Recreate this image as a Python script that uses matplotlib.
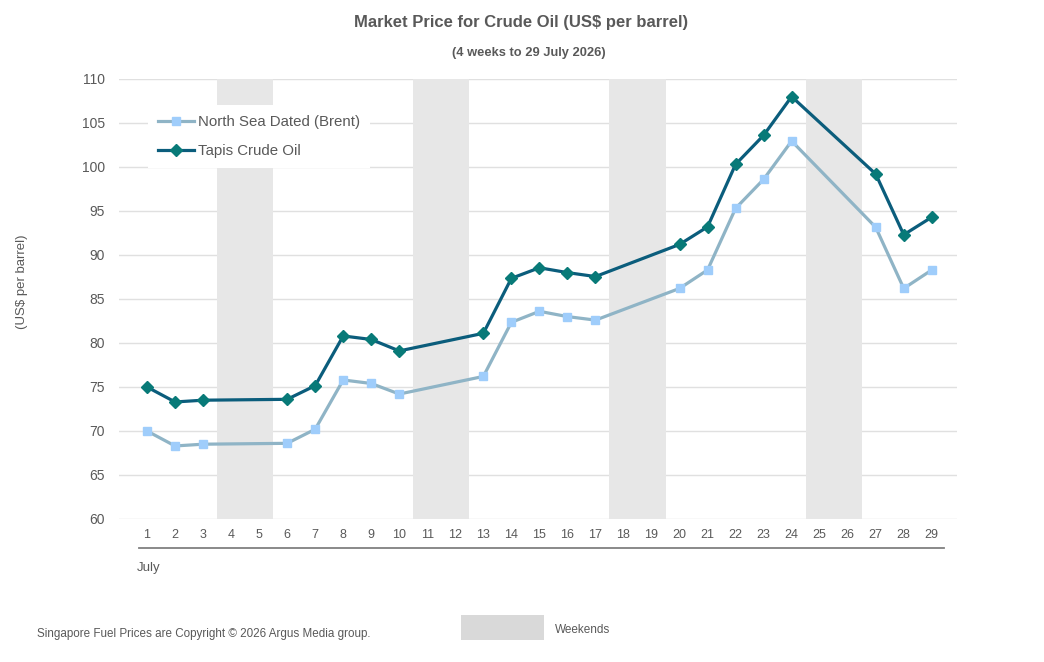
import numpy as np
import matplotlib
matplotlib.use("Agg")
import matplotlib.pyplot as plt
from matplotlib.lines import Line2D
from matplotlib.patches import Rectangle

plt.rcParams['font.family'] = ['Liberation Sans', 'DejaVu Sans']

# trading days in July and prices (US$ per barrel)
days = [1, 2, 3, 6, 7, 8, 9, 10, 13, 14, 15, 16, 17, 20, 21, 22, 23, 24, 27, 28, 29]
brent = [70.0, 68.3, 68.5, 68.6, 70.2, 75.8, 75.4, 74.2, 76.2, 82.35, 83.6, 83.0,
         82.6, 86.2, 88.3, 95.3, 98.6, 102.95, 93.15, 86.2, 88.3]
tapis = [75.0, 73.3, 73.5, 73.6, 75.15, 80.8, 80.4, 79.1, 81.1, 87.35, 88.55, 88.0,
         87.55, 91.2, 93.2, 100.3, 103.6, 108.0, 99.2, 92.3, 94.3]
weekends = [(4, 5), (11, 12), (18, 19), (25, 26)]
all_days = list(range(1, 30))

text_col = '#595959'

fig = plt.figure(figsize=(10.44, 6.62), dpi=100)
ax = fig.add_axes([119/1044, 1-519/662, (957-119)/1044, (519-79)/662])

# weekend shading
for a, b in weekends:
    ax.axvspan(a - 0.5, b + 0.5, color='#e7e7e7', lw=0, zorder=1)

ax.plot(days, brent, color='#8fb4c6', lw=2.3, marker='s', markersize=5.5,
        markerfacecolor='#9fcdfb', markeredgecolor='#9fcdfb', zorder=3,
        label='North Sea Dated (Brent)')
ax.plot(days, tapis, color='#0b5d7c', lw=2.3, marker='D', markersize=6,
        markerfacecolor='#087a78', markeredgecolor='#087a78', zorder=4,
        label='Tapis Crude Oil')

ax.set_xlim(0.0, 29.9)
ax.set_ylim(60, 110)
ax.set_yticks(np.arange(60, 111, 5))
ax.set_xticks(all_days)
ax.set_xticklabels([str(d) for d in all_days])
ax.grid(axis='y', color='#e0e0e0', lw=1, zorder=0)
ax.set_axisbelow(True)
for s in ax.spines.values():
    s.set_visible(False)
ax.tick_params(axis='both', length=0, colors=text_col, labelsize=9)
ax.tick_params(axis='x', pad=7)
ax.tick_params(axis='y', pad=10, labelsize=10)

# category group line and label
ax.add_line(Line2D([0.024, 0.9845], [-0.066, -0.066], transform=ax.transAxes,
                   color='#808080', lw=1.3, clip_on=False))
ax.text(0.021, -0.098, 'July', transform=ax.transAxes, color=text_col,
        fontsize=9.5, ha='left', va='top')

ax.set_ylabel('(US$ per barrel)', color=text_col, fontsize=9.5)
ax.yaxis.set_label_coords(-0.108, 0.54)

leg = ax.legend(loc='upper left', bbox_to_anchor=(148/1044, 1-105/662),
                bbox_transform=fig.transFigure, fontsize=10.8, frameon=True,
                facecolor='white', edgecolor='none', framealpha=1, fancybox=False,
                borderpad=0.65, handlelength=2.4, handletextpad=0.3, labelspacing=1.05,
                borderaxespad=0)
for t in leg.get_texts():
    t.set_color(text_col)
leg.set_zorder(5)

fig.text(521/1044, 1-22/662, 'Market Price for Crude Oil (US$ per barrel)',
         ha='center', va='center', fontsize=12, fontweight='bold', color=text_col)
fig.text(529/1044, 1-53/662, '(4 weeks to 29 July 2026)',
         ha='center', va='center', fontsize=9.3, fontweight='bold', color=text_col)

fig.text(37/1044, 1-634/662, 'Singapore Fuel Prices are Copyright \u00a9 2026 Argus Media group.',
         ha='left', va='center', fontsize=8.4, color=text_col)
fig.add_artist(Rectangle((461/1044, 1-640/662), 83/1044, 25/662,
                         transform=fig.transFigure, color='#d9d9d9', lw=0))
fig.text(555/1044, 1-630/662, 'Weekends', ha='left', va='center',
         fontsize=8.5, color=text_col)

fig.savefig('out.png', dpi=100)
